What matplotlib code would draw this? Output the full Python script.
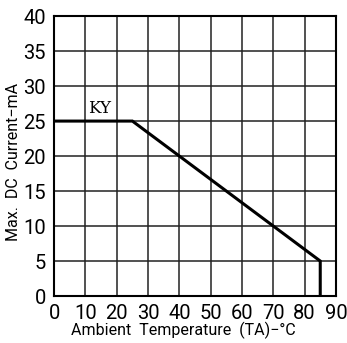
import matplotlib
matplotlib.use('Agg')

import matplotlib.pyplot as plt

# derating curve
temp = [0, 25, 85, 85]
current = [25, 25, 5, 0]
x_ticks = [0, 10, 20, 30, 40, 50, 60, 70, 80, 90]
y_ticks = [0, 5, 10, 15, 20, 25, 30, 35, 40]

narrow = ['Roboto', 'DejaVu Sans']

fig = plt.figure(figsize=(3.47, 3.43), dpi=100)
ax = fig.add_axes([0.156, 0.137, 0.812, 0.816])

ax.plot(temp, current, color='black', linewidth=2.2, solid_joinstyle='miter')
ax.text(10.9, 26.1, 'KY', family='DejaVu Serif', fontsize=12)

ax.set_xlim(0, 90)
ax.set_ylim(0, 40)
ax.set_xticks(x_ticks)
ax.set_yticks(y_ticks)
ax.grid(True, color='#222222', linewidth=1.1)
ax.set_axisbelow(True)
ax.tick_params(length=0)
ax.tick_params(axis='x', pad=6)
ax.tick_params(axis='y', pad=6)
for lab in ax.get_xticklabels() + ax.get_yticklabels():
    lab.set_family(narrow)
    lab.set_fontsize(14.5)
for s in ax.spines.values():
    s.set_linewidth(1.5)

ax.set_xlabel('Ambient  Temperature  (TA)−°C', family=narrow, fontsize=11.5)
ax.xaxis.label.set_va('center')
ax.xaxis.set_label_coords(0.46, -0.122)
ax.set_ylabel('Max.  DC  Current−mA', family=narrow, fontsize=11.5)
ax.yaxis.label.set_va('center')
ax.yaxis.set_label_coords(-0.145, 0.48)

fig.savefig('out.png')
